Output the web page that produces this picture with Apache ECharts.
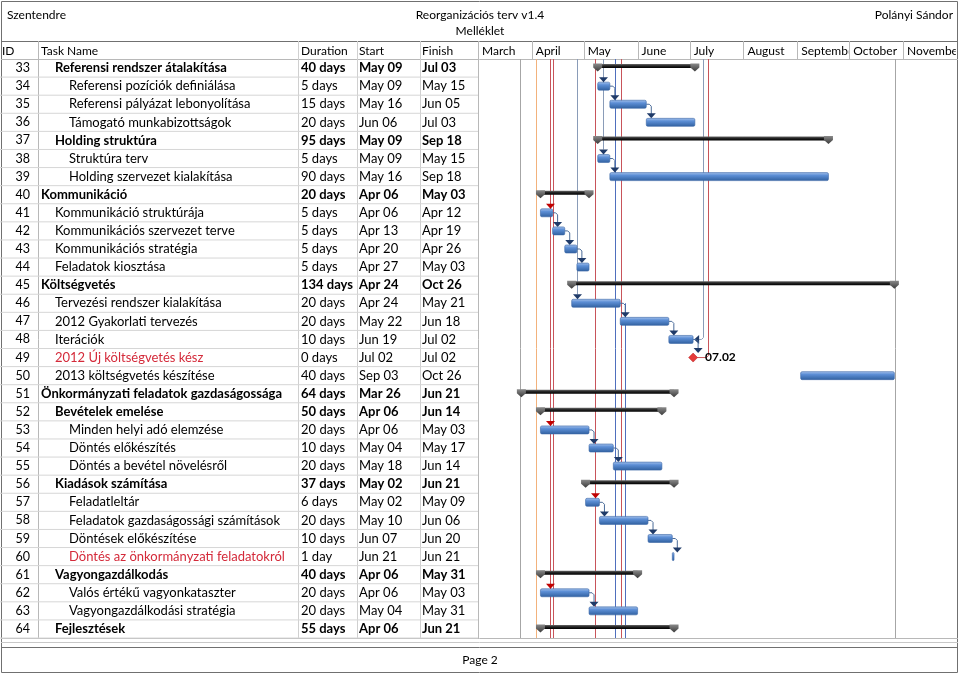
<!DOCTYPE html>
<html><head><meta charset="utf-8">
<script src="https://cdn.jsdelivr.net/npm/echarts/dist/echarts.min.js"></script>
<style>html,body{margin:0;padding:0;background:#fff}#c{width:960px;height:675px}</style>
</head><body><div id="c"></div>
<script>
// ---------------- DATA ----------------
const ids = [33,34,35,36,37,38,39,40,41,42,43,44,45,46,47,48,49,50,51,52,53,54,55,56,57,58,59,60,61,62,63,64];
const taskNames = [
 'Referensi rendszer átalakítása','Referensi pozíciók definiálása','Referensi pályázat lebonyolítása','Támogató munkabizottságok',
 'Holding struktúra','Struktúra terv','Holding szervezet kialakítása','Kommunikáció','Kommunikáció struktúrája',
 'Kommunikációs szervezet terve','Kommunikációs stratégia','Feladatok kiosztása','Költségvetés','Tervezési rendszer kialakítása',
 '2012 Gyakorlati tervezés','Iterációk','2012 Új költségvetés kész','2013 költségvetés készítése','Önkormányzati feladatok gazdaságossága',
 'Bevételek emelése','Minden helyi adó elemzése','Döntés előkészítés','Döntés a bevétel növelésről','Kiadások számítása','Feladatleltár',
 'Feladatok gazdaságossági számítások','Döntések előkészítése','Döntés az önkormányzati feladatokról','Vagyongazdálkodás',
 'Valós értékű vagyonkataszter','Vagyongazdálkodási stratégia','Fejlesztések'];
const outlineLevels = [1,2,2,2,1,2,2,0,1,1,1,1,0,1,1,1,1,1,0,1,2,2,2,1,2,2,2,2,1,2,2,1];
const durations = ['40 days','5 days','15 days','20 days','95 days','5 days','90 days','20 days','5 days','5 days','5 days','5 days',
 '134 days','20 days','20 days','10 days','0 days','40 days','64 days','50 days','20 days','10 days','20 days','37 days','6 days',
 '20 days','10 days','1 day','40 days','20 days','20 days','55 days'];
const starts = ['May 09','May 09','May 16','Jun 06','May 09','May 09','May 16','Apr 06','Apr 06','Apr 13','Apr 20','Apr 27',
 'Apr 24','Apr 24','May 22','Jun 19','Jul 02','Sep 03','Mar 26','Apr 06','Apr 06','May 04','May 18','May 02','May 02','May 10',
 'Jun 07','Jun 21','Apr 06','Apr 06','May 04','Apr 06'];
const finishes = ['Jul 03','May 15','Jun 05','Jul 03','Sep 18','May 15','Sep 18','May 03','Apr 12','Apr 19','Apr 26','May 03',
 'Oct 26','May 21','Jun 18','Jul 02','Jul 02','Oct 26','Jun 21','Jun 14','May 03','May 17','Jun 14','Jun 21','May 09','Jun 06',
 'Jun 20','Jun 21','May 31','May 03','May 31','Jun 21'];
const summaryIds = [33,37,40,45,51,52,56,61,64];
const milestoneIds = [49];
const redTextIds = [49,60];
const months = ['March','April','May','June','July','August','September','October','November'];
const monthStartDays = [0,31,61,92,122,153,184,214,245,276]; // days counted from Mar 1
const linkPairs = [[34,35],[35,36],[38,39],[41,42],[42,43],[43,44],[46,47],[47,48],[48,49],[53,54],[54,55],[57,58],[58,59],[59,60],[62,63]];
// links arriving from tasks outside this page: [successor id, day of the link line, kind]
const incomingLinks = [[34,71.9,'normal'],[38,71.9,'normal'],[41,41.5,'critical'],[46,56.9,'normal'],[53,41.5,'critical'],[57,67.4,'critical'],[62,41.5,'critical']];
// link lines crossing the page: day, from row (null = top), to row (null = bottom), end type
const passDays  = [24.2, 33.4, 41.5, 43.0, 56.9, 67.4, 71.9, 79.1, 82.3, 84.9, 129.5, 132.8, 240.4];
const passFrom  = [null, null, null, null, null, null, null, null, null, 46,   null,  null,  null];
const passTo    = [null, null, null, null, 46,   null, 38,   null, null, null, 48,    49,    null];
const passKinds = ['grey','orange','critical','critical','normal','critical','normal','blue','critical','blue','finish','milestone','grey'];

// ---------------- HELPERS ----------------
const monthOffset = {Mar:0,Apr:31,May:61,Jun:92,Jul:122,Aug:153,Sep:184,Oct:214,Nov:245};
const monthNum = {Mar:'03',Apr:'04',May:'05',Jun:'06',Jul:'07',Aug:'08',Sep:'09',Oct:'10',Nov:'11'};
function dayOf(s){const p=s.split(' ');return monthOffset[p[0]]+(+p[1])-1;}
const FONT = 'Lato, "Open Sans", sans-serif';
const BODY = '13px ';
const HEAD = '12px ';
const rowIdx = id => ids.indexOf(id);
const kindColor = {grey:'#a6a6a6',orange:'#f2b27c',critical:'#c8545a',normal:'#8a9cb8',blue:'#4f6fbd',finish:'#8a9cb8',milestone:'#c8545a'};

const barData = ids.map((id,i)=>{
  const k = milestoneIds.includes(id)?2:(summaryIds.includes(id)?1:0);
  return [i, dayOf(starts[i]), dayOf(finishes[i])+1, k];
});

const blueGrad = new echarts.graphic.LinearGradient(0,0,0,1,[{offset:0,color:'#a9c4ec'},{offset:0.35,color:'#5d8fd6'},{offset:1,color:'#30609f'}]);
const blackGrad = new echarts.graphic.LinearGradient(0,0,0,1,[{offset:0,color:'#6a6a6a'},{offset:0.45,color:'#262626'},{offset:1,color:'#000'}]);
const capGrad = new echarts.graphic.LinearGradient(0,0,0,1,[{offset:0,color:'#8a8a8a'},{offset:1,color:'#3a3a3a'}]);

function renderTable(params, api){
  const i = api.value(0);
  const c = api.coord([0,i])[1];
  const h = api.size([0,1])[1];
  const id = ids[i];
  const bold = summaryIds.includes(id);
  const fill = redTextIds.includes(id)?'#d42a3a':'#000';
  const font = (bold?'bold ':'')+BODY+FONT;
  const t = (text,x,align,f,ft)=>({type:'text',style:{text,x,y:c,textAlign:align||'left',textVerticalAlign:'middle',font:ft||font,fill:f||fill}});
  return {type:'group',children:[
    {type:'line',shape:{x1:0,y1:c+h/2,x2:478,y2:c+h/2},style:{stroke:'#d6d6d6',lineWidth:1}},
    t(String(id),30,'right','#000','12.5px '+FONT),
    t(taskNames[i],41+14*outlineLevels[i]),
    t(durations[i],301,'left','#000',font),
    t(starts[i],359,'left','#000',font),
    t(finishes[i],422,'left','#000',font)
  ]};
}

function renderMonths(params, api){
  const i = params.dataIndex;
  if(i>=months.length) return null;
  const x0 = api.coord([monthStartDays[i],0])[0];
  const x1 = Math.min(api.coord([monthStartDays[i+1],0])[0], 957);
  const top = params.coordSys.y;
  return {type:'group',children:[
    {type:'line',shape:{x1:Math.round(x0)+0.5,y1:41,x2:Math.round(x0)+0.5,y2:top},style:{stroke:'#b8b8b8',lineWidth:1}},
    {type:'text',clipPath:{type:'rect',shape:{x:x0,y:42,width:x1-x0-1,height:17}},
     style:{text:months[i],x:x0+4,y:top-8,textVerticalAlign:'middle',font:HEAD+FONT,fill:'#000'}}
  ]};
}

function renderPass(params, api){
  const i = params.dataIndex;
  const cs = params.coordSys;
  const x = Math.round(api.coord([passDays[i],0])[0])+0.5;
  const col = kindColor[passKinds[i]];
  let y1 = passFrom[i]==null ? cs.y : api.coord([0,rowIdx(passFrom[i])])[1];
  const ch = [];
  if(passTo[i]==null){ ch.push({type:'line',shape:{x1:x,y1,x2:x,y2:cs.y+cs.height},style:{stroke:col,lineWidth:1}}); }
  else {
    const c = api.coord([0,rowIdx(passTo[i])])[1];
    const k = passKinds[i];
    if(k==='finish'||k==='milestone'){
      const bi = rowIdx(passTo[i]);
      const endX = api.coord([barData[bi][2],bi])[0];
      ch.push({type:'polyline',shape:{points:[[x,y1],[x,c-2],[x-2,c],[endX+(k==='finish'?5:4),c]]},style:{stroke:col,lineWidth:1,fill:null}});
      if(k==='finish') ch.push({type:'polygon',shape:{points:[[endX+6,c-4.5],[endX+6,c+4.5],[endX+1,c]]},style:{fill:'#1f3a68'}});
    } else {
      ch.push({type:'line',shape:{x1:x,y1,x2:x,y2:c-9},style:{stroke:col,lineWidth:1}});
    }
  }
  return {type:'group',children:ch};
}

function renderBars(params, api){
  const i = api.value(0), kind = api.value(3);
  const a = api.coord([api.value(1),i]), b = api.coord([api.value(2),i]);
  const c = a[1];
  if(kind===2){
    const x = b[0], p = finishes[i].split(' ');
    return {type:'group',children:[
      {type:'polygon',shape:{points:[[x,c-4.5],[x+4.5,c],[x,c+4.5],[x-4.5,c]]},style:{fill:'#e53b3b',stroke:'#b52020',lineWidth:0.5}},
      {type:'text',style:{text:monthNum[p[0]]+'.'+p[1],x:x+12,y:c,textVerticalAlign:'middle',font:'bold 12px '+FONT,fill:'#000'}}
    ]};
  }
  if(kind===1){
    const cap = x=>({type:'polygon',shape:{points:[[x-4.5,c-4.5],[x+4.5,c-4.5],[x+4.5,c-0.5],[x,c+3.5],[x-4.5,c-0.5]]},style:{fill:capGrad}});
    return {type:'group',children:[
      {type:'rect',shape:{x:a[0],y:c-4,width:b[0]-a[0],height:4},style:{fill:blackGrad}},
      cap(a[0]), cap(b[0])
    ]};
  }
  return {type:'rect',shape:{x:a[0],y:c-4,width:Math.max(1.5,b[0]-a[0]),height:8,r:1.5},style:{fill:blueGrad,stroke:'#3a66a6',lineWidth:0.6}};
}

function tri(x,yTip,fill){return {type:'polygon',shape:{points:[[x-4.5,yTip-5],[x+4.5,yTip-5],[x,yTip]]},style:{fill}};}

function renderLinks(params, api){
  const pr = rowIdx(linkPairs[params.dataIndex][0]);
  const sr = rowIdx(linkPairs[params.dataIndex][1]);
  const e = api.coord([barData[pr][2],pr]);
  const c2 = api.coord([0,sr])[1];
  const x2 = e[0]+5;
  const yTip = barData[sr][3]===2 ? c2-4.5 : c2-4;
  return {type:'group',children:[
    {type:'polyline',shape:{points:[[e[0],e[1]],[x2-2,e[1]],[x2,e[1]+2],[x2,yTip-4]]},style:{stroke:'#4a6b98',lineWidth:1,fill:null}},
    tri(x2,yTip,'#1f3a68')
  ]};
}

function renderIncoming(params, api){
  const d = incomingLinks[params.dataIndex];
  const r = rowIdx(d[0]);
  const x = Math.round(api.coord([d[1],r])[0])+0.5;
  const c = api.coord([0,r])[1];
  return tri(x,c-4,d[2]==='critical'?'#c00000':'#1f3a68');
}

const chart = echarts.init(document.getElementById('c'));
chart.setOption({
  animation:false,
  grid:{left:478,top:59,width:479,height:579},
  xAxis:{type:'value',min:0,max:276.1,show:false},
  yAxis:{type:'category',data:ids.map(String),inverse:true,show:false},
  graphic:[
    {type:'rect',shape:{x:1.5,y:1.5,width:956,height:671},style:{fill:null,stroke:'#707070',lineWidth:1},z:0},
    {type:'line',shape:{x1:1,y1:41.5,x2:958,y2:41.5},style:{stroke:'#707070'}},
    {type:'line',shape:{x1:1,y1:59.5,x2:958,y2:59.5},style:{stroke:'#b8b8b8'}},
    {type:'line',shape:{x1:38.5,y1:41,x2:38.5,y2:638},style:{stroke:'#b8b8b8'}},
    {type:'line',shape:{x1:298.5,y1:41,x2:298.5,y2:638},style:{stroke:'#d0d0d0'}},
    {type:'line',shape:{x1:357.5,y1:41,x2:357.5,y2:638},style:{stroke:'#d0d0d0'}},
    {type:'line',shape:{x1:420.5,y1:41,x2:420.5,y2:638},style:{stroke:'#d0d0d0'}},
    {type:'line',shape:{x1:478.5,y1:41,x2:478.5,y2:638},style:{stroke:'#b8b8b8'}},
    {type:'line',shape:{x1:1,y1:638.5,x2:958,y2:638.5},style:{stroke:'#b8b8b8'}},
    {type:'line',shape:{x1:1,y1:642.5,x2:958,y2:642.5},style:{stroke:'#c8c8c8'}},
    {type:'line',shape:{x1:1,y1:647.5,x2:958,y2:647.5},style:{stroke:'#707070'}},
    {type:'text',style:{text:'Szentendre',x:7,y:15,textVerticalAlign:'middle',font:HEAD+FONT,fill:'#000'}},
    {type:'text',style:{text:'Reorganizációs terv v1.4',x:480,y:15,textAlign:'center',textVerticalAlign:'middle',font:HEAD+FONT,fill:'#000'}},
    {type:'text',style:{text:'Melléklet',x:480,y:31,textAlign:'center',textVerticalAlign:'middle',font:HEAD+FONT,fill:'#000'}},
    {type:'text',style:{text:'Polányi Sándor',x:953,y:15,textAlign:'right',textVerticalAlign:'middle',font:HEAD+FONT,fill:'#000'}},
    {type:'text',style:{text:'ID',x:2,y:51,textVerticalAlign:'middle',font:HEAD+FONT,fill:'#000'}},
    {type:'text',style:{text:'Task Name',x:41,y:51,textVerticalAlign:'middle',font:HEAD+FONT,fill:'#000'}},
    {type:'text',style:{text:'Duration',x:301,y:51,textVerticalAlign:'middle',font:HEAD+FONT,fill:'#000'}},
    {type:'text',style:{text:'Start',x:359,y:51,textVerticalAlign:'middle',font:HEAD+FONT,fill:'#000'}},
    {type:'text',style:{text:'Finish',x:422,y:51,textVerticalAlign:'middle',font:HEAD+FONT,fill:'#000'}},
    {type:'text',style:{text:'Page 2',x:480,y:660,textAlign:'center',textVerticalAlign:'middle',font:HEAD+FONT,fill:'#000'}}
  ],
  series:[
    {type:'custom',name:'table',renderItem:renderTable,data:ids.map((id,i)=>[i]),encode:{y:0},z:2,silent:true},
    {type:'custom',name:'months',renderItem:renderMonths,data:monthStartDays.map(d=>[d,0]),encode:{x:0,y:1},z:2,silent:true},
    {type:'custom',name:'linkLines',renderItem:renderPass,data:passDays.map(d=>[d,0]),encode:{x:0,y:1},z:3,silent:true},
    {type:'custom',name:'bars',renderItem:renderBars,data:barData,encode:{x:[1,2],y:0},z:5,silent:true},
    {type:'custom',name:'links',renderItem:renderLinks,data:linkPairs.map((p,i)=>[0,i]),encode:{x:0,y:1},z:4,silent:true},
    {type:'custom',name:'incoming',renderItem:renderIncoming,data:incomingLinks.map(d=>[d[1],rowIdx(d[0])]),encode:{x:0,y:1},z:6,silent:true}
  ]
});
</script></body></html>
